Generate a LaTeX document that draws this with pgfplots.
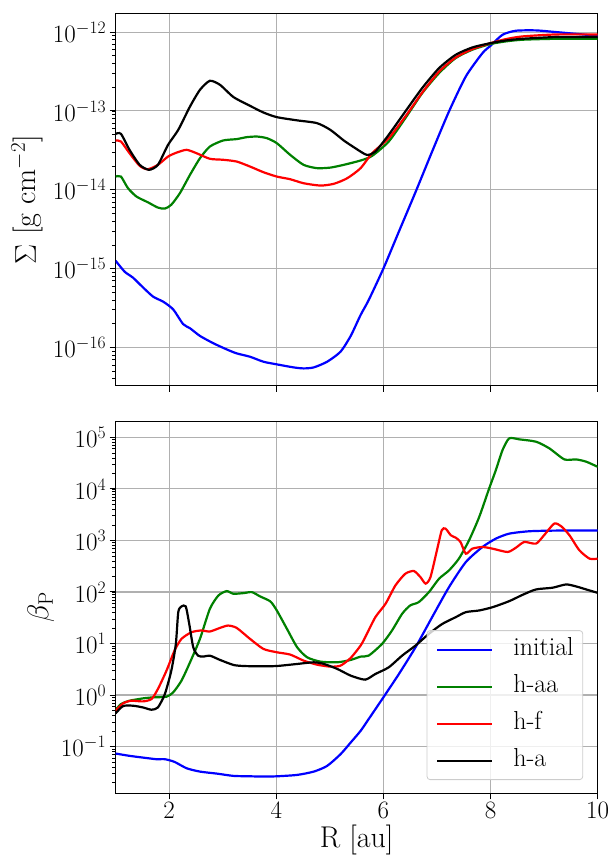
\RequirePackage{fix-cm}
\documentclass[border=0pt]{standalone}
\usepackage{pgfplots}
\pgfplotsset{compat=1.18}

\definecolor{mplgrid}{RGB}{176,176,176}
\definecolor{mplgreen}{RGB}{0,128,0}
\definecolor{legframe}{RGB}{204,204,204}

\pgfplotsset{
  panel/.style={
    width=482pt, height=372pt, scale only axis,
    xmin=1, xmax=10, xtick={2,4,6,8,10},
    grid=major,
    major grid style={line width=1.1pt, color=mplgrid},
    axis line style={line width=1pt, black},
    tick align=outside, xtick pos=bottom, ytick pos=left,
    major tick length=6pt, minor tick length=3.5pt,
    major tick style={line width=1pt, black},
    minor tick style={line width=0.7pt, black},
    tick label style={font=\fontsize{25}{30}\selectfont},
    label style={font=\fontsize{30}{36}\selectfont},
    every axis plot/.append style={line width=2.2pt, smooth, tension=0.4},
  },
}

\begin{document}
\begin{tikzpicture}
\useasboundingbox (0pt,0pt) rectangle (615pt,857pt);

% ---------------- upper panel: surface density ----------------
\begin{semilogyaxis}[panel,
  at={(115.6pt,471.3pt)}, anchor=south west,
  ymin=3.27e-17, ymax=1.71e-12,
  xticklabels={},
  ylabel={$\Sigma$ [g cm$^{-2}$]},
  ylabel style={at={(axis description cs:-0.183,0.5)}, anchor=center},
]
\addplot[blue] coordinates {
(1.0,1.26e-15) (1.17,9.12e-16) (1.325,7.67e-16) (1.51,5.79e-16) (1.7,4.41e-16)
(1.89,3.80e-16) (2.075,3.04e-16) (2.26,1.98e-16) (2.39,1.75e-16) (2.575,1.40e-16)
(2.825,1.13e-16) (3.075,9.44e-17) (3.26,8.41e-17) (3.51,7.62e-17) (3.76,6.59e-17)
(4.01,6.10e-17) (4.325,5.58e-17) (4.51,5.42e-17) (4.7,5.58e-17) (4.95,6.59e-17)
(5.2,8.83e-17) (5.39,1.40e-16) (5.575,2.58e-16) (5.725,3.98e-16) (6.0,1.0e-15)
(6.29,2.95e-15) (6.6,9.33e-15) (6.91,3.05e-14) (7.225,9.84e-14) (7.54,2.74e-13)
(7.85,5.41e-13) (8.0,6.70e-13) (8.225,9.25e-13) (8.475,1.04e-12) (8.85,1.05e-12)
(9.225,1.0e-12) (10.0,8.97e-13)
};
\addplot[mplgreen] coordinates {
(1.0,1.47e-14) (1.1,1.47e-14) (1.23,1.05e-14) (1.39,8.20e-15) (1.6,6.95e-15)
(1.79,5.94e-15) (1.92,5.77e-15) (2.04,6.46e-15) (2.2,9.04e-15) (2.39,1.55e-14)
(2.575,2.51e-14) (2.76,3.53e-14) (3.01,4.22e-14) (3.26,4.39e-14) (3.45,4.65e-14)
(3.64,4.73e-14) (3.825,4.51e-14) (4.01,3.90e-14) (4.26,2.77e-14) (4.51,2.07e-14)
(4.76,1.88e-14) (5.01,1.91e-14) (5.26,2.07e-14) (5.575,2.35e-14) (5.79,2.69e-14)
(6.1,4.09e-14) (6.41,8.09e-14) (6.725,1.68e-13) (7.04,3.02e-13) (7.35,4.68e-13)
(7.66,5.97e-13) (8.0,7.05e-13) (8.29,7.62e-13) (8.6,8.00e-13) (9.225,8.22e-13)
(10.0,8.22e-13)
};
\addplot[red] coordinates {
(1.0,4.22e-14) (1.1,4.09e-14) (1.26,2.91e-14) (1.45,2.01e-14) (1.6,1.82e-14)
(1.79,2.07e-14) (1.98,2.64e-14) (2.14,2.96e-14) (2.325,3.21e-14) (2.51,2.91e-14)
(2.76,2.47e-14) (3.01,2.40e-14) (3.26,2.28e-14) (3.51,1.97e-14) (3.76,1.67e-14)
(4.01,1.47e-14) (4.26,1.36e-14) (4.51,1.21e-14) (4.825,1.13e-14) (5.075,1.19e-14)
(5.325,1.40e-14) (5.575,1.88e-14) (5.79,2.91e-14) (6.1,4.51e-14) (6.41,8.49e-14)
(6.725,1.71e-13) (7.04,3.16e-13) (7.35,4.76e-13) (7.66,6.08e-13) (8.0,7.24e-13)
(8.29,8.15e-13) (8.6,8.81e-13) (9.225,9.33e-13) (10.0,9.33e-13)
};
\addplot[black] coordinates {
(1.0,5.12e-14) (1.1,5.12e-14) (1.26,3.21e-14) (1.45,2.07e-14) (1.625,1.79e-14)
(1.79,2.07e-14) (1.98,3.72e-14) (2.17,5.75e-14) (2.39,1.14e-13) (2.575,1.85e-13)
(2.76,2.41e-13) (2.95,2.14e-13) (3.2,1.50e-13) (3.51,1.16e-13) (3.76,9.55e-14)
(4.01,8.34e-14) (4.39,7.59e-14) (4.76,7.00e-14) (5.01,5.75e-14) (5.26,4.22e-14)
(5.475,3.37e-14) (5.69,2.77e-14) (5.85,3.05e-14) (6.1,4.98e-14) (6.41,9.84e-14)
(6.725,1.95e-13) (7.04,3.49e-13) (7.35,5.15e-13) (7.66,6.38e-13) (8.0,7.24e-13)
(8.29,7.83e-13) (8.6,8.22e-13) (9.225,8.65e-13) (10.0,8.65e-13)
};
\end{semilogyaxis}

% ---------------- lower panel: plasma beta ----------------
\begin{semilogyaxis}[panel,
  at={(115.6pt,63.7pt)}, anchor=south west,
  ymin=0.0124, ymax=2.05e5,
  xlabel={R [au]},
  xlabel style={at={(axis description cs:0.5,-0.126)}, anchor=center},
  ylabel={$\beta_{\mathrm{P}}$},
  ylabel style={at={(axis description cs:-0.155,0.5)}, anchor=center},
  legend cell align=left,
  legend image code/.code={\draw[#1] (0pt,0pt) -- (55pt,0pt);},
  legend style={
    at={(1,0)}, anchor=south east, xshift=-14.5pt, yshift=13.3pt,
    draw=legframe, line width=0.8pt, fill=white, fill opacity=0.8, text opacity=1,
    rounded corners=3pt,
    inner xsep=9pt, inner ysep=7pt,
    font=\fontsize{26}{31}\selectfont,
    nodes={inner sep=0pt, text height=18pt, text depth=6pt},
    row sep=13pt,
    /tikz/every odd column/.append style={column sep=20pt},
  },
]
\addplot[blue] coordinates {
(1.0,0.0733) (1.26,0.0661) (1.51,0.0612) (1.76,0.0569) (1.92,0.0569)
(2.1,0.0505) (2.325,0.0380) (2.575,0.0327) (2.89,0.0299) (3.2,0.0270)
(3.51,0.0265) (3.76,0.0262) (4.01,0.0265) (4.39,0.0282) (4.7,0.0327)
(4.95,0.0422) (5.2,0.0711) (5.39,0.120) (5.575,0.202) (5.725,0.341)
(6.0,0.902) (6.29,2.56) (6.6,8.45) (6.91,32.4) (7.225,124) (7.54,381)
(7.85,746) (8.1,1084) (8.35,1355) (8.725,1507) (9.225,1552) (10.0,1552)
};
\addlegendentry{initial}
\addplot[mplgreen] coordinates {
(1.0,0.511) (1.1,0.668) (1.26,0.776) (1.51,0.861) (1.7,0.902) (1.95,0.929)
(2.075,1.127) (2.23,1.90) (2.39,4.32) (2.575,12.3) (2.76,47.1) (2.92,85.5)
(3.075,104) (3.2,92.3) (3.39,95.1) (3.545,99.3) (3.7,81.8) (3.89,65.5)
(4.01,43.8) (4.2,19.2) (4.39,8.45) (4.575,5.41) (4.825,4.45) (5.14,4.32)
(5.39,4.80) (5.575,5.57) (5.725,5.82) (5.975,9.82) (6.16,17.8) (6.35,37.7)
(6.5,54.7) (6.66,63.5) (6.85,99.3) (7.04,181) (7.225,262) (7.41,443)
(7.6,1007) (7.79,2864) (7.975,10190) (8.1,23120) (8.225,56750) (8.35,95720)
(8.54,91410) (8.85,82410) (9.1,61090) (9.38,37330) (9.6,37330) (9.79,33650)
(10.0,26850)
};
\addlegendentry{h-aa}
\addplot[red] coordinates {
(1.0,0.495) (1.14,0.689) (1.29,0.776) (1.51,0.753) (1.67,0.836) (1.79,1.31)
(1.95,2.97) (2.1,7.28) (2.23,12.3) (2.42,16.6) (2.6,17.9) (2.76,17.1)
(2.95,20.1) (3.1,22.3) (3.26,20.1) (3.51,12.3) (3.76,7.85) (4.01,6.76)
(4.26,6.10) (4.51,4.66) (4.76,3.89) (5.01,3.56) (5.2,3.72) (5.39,5.25)
(5.575,9.12) (5.66,13.2) (5.85,32.4) (6.04,58.9) (6.225,134) (6.41,226)
(6.57,255) (6.69,195) (6.79,145) (6.88,195) (7.0,643) (7.09,1574)
(7.16,1698) (7.26,1259) (7.35,1132) (7.44,933) (7.54,553) (7.66,692)
(7.85,746) (8.04,692) (8.32,597) (8.475,724) (8.63,933) (8.85,867)
(9.0,1259) (9.19,2123) (9.32,1884) (9.475,1259) (9.66,643) (9.85,443)
(10.0,443)
};
\addlegendentry{h-f}
\addplot[black] coordinates {
(1.0,0.440) (1.14,0.611) (1.325,0.621) (1.51,0.575) (1.67,0.519) (1.79,0.575)
(1.92,1.047) (2.04,2.97) (2.125,9.82) (2.17,40.6) (2.23,52.4) (2.31,52.4)
(2.375,24.0) (2.45,8.45) (2.54,5.82) (2.64,5.57) (2.76,5.82) (2.95,4.80)
(3.2,3.84) (3.39,3.66) (3.7,3.61) (4.01,3.66) (4.39,4.01) (4.7,4.32)
(4.89,4.01) (5.14,3.21) (5.39,2.38) (5.66,1.99) (5.85,2.56) (6.1,3.45)
(6.35,5.82) (6.6,9.12) (6.85,15.4) (7.1,24.0) (7.35,32.4) (7.54,40.6)
(7.79,43.8) (8.04,50.7) (8.35,66.4) (8.6,88.1) (8.85,112) (9.16,121)
(9.41,140) (9.6,128) (9.85,107) (10.0,96.4)
};
\addlegendentry{h-a}
\end{semilogyaxis}
\end{tikzpicture}
\end{document}
